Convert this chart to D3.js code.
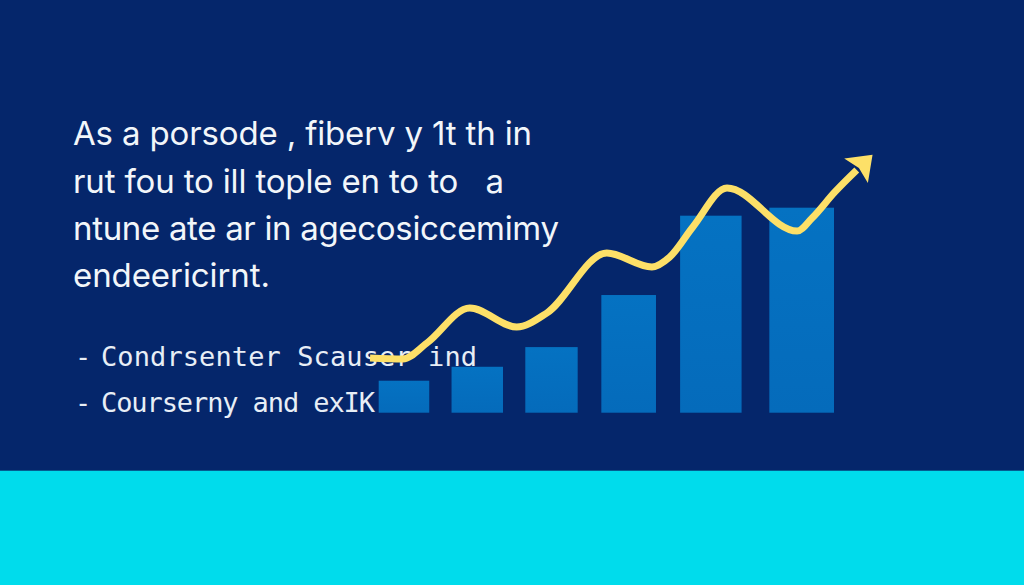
<!DOCTYPE html>
<html lang="en">
<head>
  <title>Growth chart</title>
  <meta charset="utf-8">
  <script src="https://d3js.org/d3.v7.min.js" charset="utf-8"></script>
  <style>
    html, body { margin: 0; padding: 0; background: #05266b; }
    svg { display: block; }
    text { white-space: pre; }
  </style>
</head>
<body>
  <script>
  // text
  var paraLines = ["As a porsode , fiberv y 1t th in", "rut fou to ill tople en to to   a", "ntune ate ar in agecosiccemimy", "endeericirnt."];
  var listLines = ["Condrsenter Scauser ind", "Courserny and exIK"];

  // bars, edges and heights
  var barStart = [0, 16, 32.2, 48.9, 66.2, 85.8];
  var barEnd = [11.1, 27.3, 43.7, 60.9, 79.7, 100];
  var barValue = [15.6, 22.4, 32, 57.4, 96.1, 100];

  // yellow line
  var lineX = [-1.9, 5.3, 10.6, 20, 30.3, 36.9, 50.1, 60, 63.9, 69, 76.5, 91.9, 95.2, 100.2, 105];
  var lineY = [26.7, 26.2, 34, 51.1, 41.8, 48.6, 77.9, 71.1, 75.9, 90.6, 109.6, 88.6, 95, 107.7, 118.4];

  var w = 1024, h = 585;
  var bandTop = 470.7;

  var x = d3.scaleLinear().domain([0, 100]).range([378.7, 834]);
  var y = d3.scaleLinear().domain([0, 100]).range([412.7, 207.7]);

  var svg = d3.select("body").append("svg")
    .attr("width", w)
    .attr("height", h);

  var defs = svg.append("defs");

  var grad = defs.append("linearGradient")
    .attr("id", "barFill")
    .attr("x1", 0).attr("y1", 0).attr("x2", 0).attr("y2", 1);
  grad.append("stop").attr("offset", "0%").attr("stop-color", "#0572c2");
  grad.append("stop").attr("offset", "100%").attr("stop-color", "#056bbb");

  defs.append("marker")
    .attr("id", "arrowHead")
    .attr("markerUnits", "userSpaceOnUse")
    .attr("viewBox", "-4 -20 30 40")
    .attr("markerWidth", 30)
    .attr("markerHeight", 40)
    .attr("refX", 0)
    .attr("refY", 0)
    .attr("orient", "auto")
    .append("path")
    .attr("d", "M22,0 L-1,-17 L3,0 L-1,17 Z")
    .attr("fill", "#fde068");

  svg.append("rect")
    .attr("width", w)
    .attr("height", h)
    .attr("fill", "#05266b");

  svg.append("rect")
    .attr("y", bandTop)
    .attr("width", w)
    .attr("height", h - bandTop)
    .attr("fill", "#00dcec");

  var paraY = [145, 192.5, 240, 287];
  var paraW = [459, 431, 486, 197];

  svg.selectAll(".para")
    .data(paraLines)
    .enter()
    .append("text")
    .attr("class", "para")
    .attr("x", 73)
    .attr("y", function(d, i) { return paraY[i]; })
    .attr("textLength", function(d, i) { return paraW[i]; })
    .attr("font-family", "Inter")
    .attr("font-size", 33)
    .attr("fill", "#f2f6fa")
    .text(function(d) { return d; });

  var listY = [366, 412];
  var listW = [376, 274];

  svg.selectAll(".dash")
    .data(listLines)
    .enter()
    .append("text")
    .attr("class", "dash")
    .attr("x", 75)
    .attr("y", function(d, i) { return listY[i]; })
    .attr("font-family", "DejaVu Sans Mono")
    .attr("font-size", 27)
    .attr("fill", "#e8eef6")
    .text("-");

  svg.selectAll(".list")
    .data(listLines)
    .enter()
    .append("text")
    .attr("class", "list")
    .attr("x", 101)
    .attr("y", function(d, i) { return listY[i]; })
    .attr("textLength", function(d, i) { return listW[i]; })
    .attr("font-family", "DejaVu Sans Mono")
    .attr("font-size", 27)
    .attr("fill", "#e8eef6")
    .text(function(d) { return d; });

  svg.selectAll(".bar")
    .data(barValue)
    .enter()
    .append("rect")
    .attr("class", "bar")
    .attr("x", function(d, i) { return x(barStart[i]); })
    .attr("y", function(d) { return y(d); })
    .attr("width", function(d, i) { return x(barEnd[i]) - x(barStart[i]); })
    .attr("height", function(d) { return y(0) - y(d); })
    .attr("fill", "url(#barFill)");

  var line = d3.line()
    .x(function(d) { return x(d[0]); })
    .y(function(d) { return y(d[1]); })
    .curve(d3.curveMonotoneX);

  svg.append("path")
    .datum(d3.zip(lineX, lineY))
    .attr("d", line)
    .attr("fill", "none")
    .attr("stroke", "#fde068")
    .attr("stroke-width", 7)
    .attr("stroke-linejoin", "round")
    .attr("marker-end", "url(#arrowHead)");
  </script>
</body>
</html>
